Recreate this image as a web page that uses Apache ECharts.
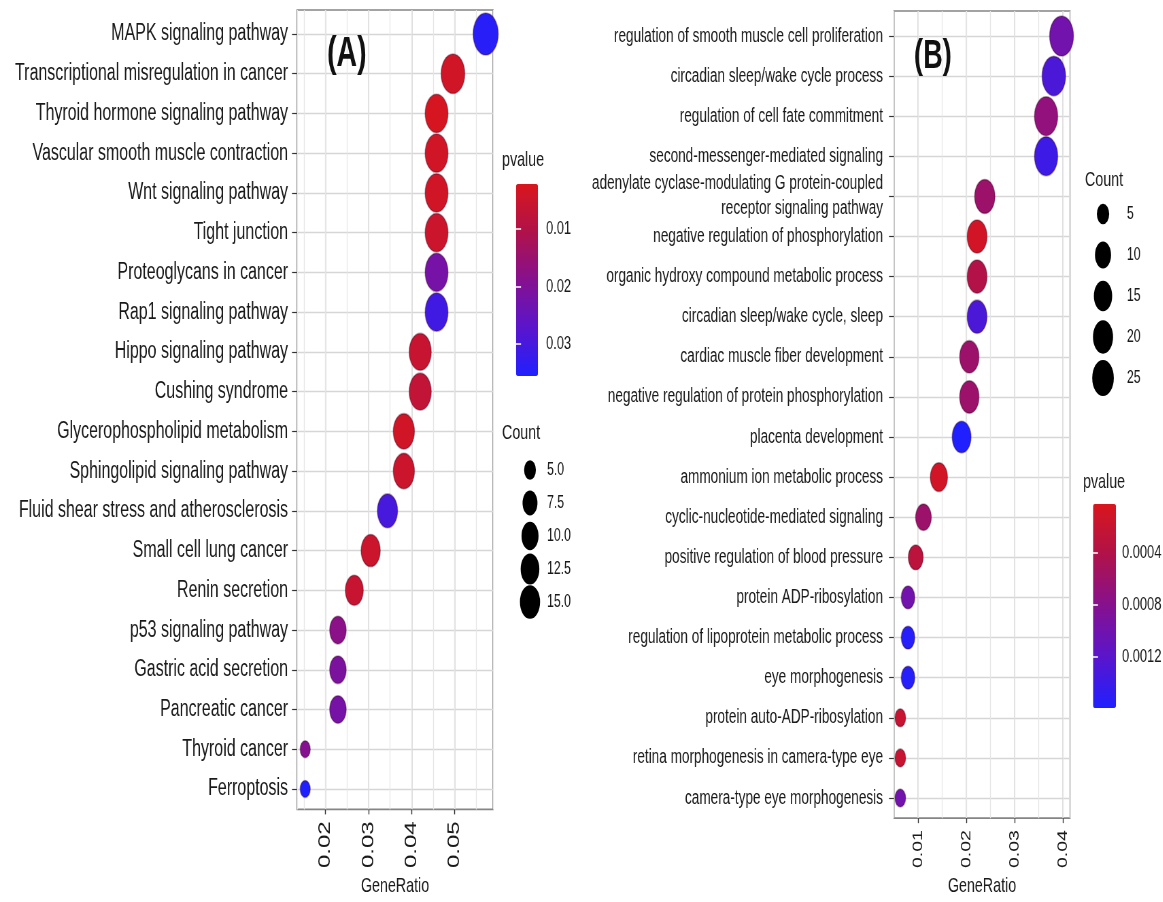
<!DOCTYPE html>
<html>
<head>
<meta charset="utf-8">
<title>KEGG / GO enrichment dot plots</title>
<script src="https://cdn.jsdelivr.net/npm/echarts@6/dist/echarts.min.js"></script>
<style>
  html, body { margin: 0; padding: 0; background: #fff; overflow: hidden; }
  #wrap { width: 1163px; height: 902px; overflow: hidden; }
  /* the reference picture is squeezed horizontally, so the chart is drawn wide and squeezed too */
  #chart { width: 1711px; height: 902px; transform: scaleX(0.68); transform-origin: 0 0; }
</style>
</head>
<body>
<div id="wrap"><div id="chart"></div></div>
<script>
// ---- panel A: KEGG pathways ----
const keggTerms = [
  'MAPK signaling pathway',
  'Transcriptional misregulation in cancer',
  'Thyroid hormone signaling pathway',
  'Vascular smooth muscle contraction',
  'Wnt signaling pathway',
  'Tight junction',
  'Proteoglycans in cancer',
  'Rap1 signaling pathway',
  'Hippo signaling pathway',
  'Cushing syndrome',
  'Glycerophospholipid metabolism',
  'Sphingolipid signaling pathway',
  'Fluid shear stress and atherosclerosis',
  'Small cell lung cancer',
  'Renin secretion',
  'p53 signaling pathway',
  'Gastric acid secretion',
  'Pancreatic cancer',
  'Thyroid cancer',
  'Ferroptosis'
]
const keggRatio = [0.0572, 0.0496, 0.0458, 0.0458, 0.0458, 0.0458, 0.0458, 0.0458, 0.0420, 0.0420,
  0.0382, 0.0382, 0.0344, 0.0305, 0.0267, 0.0229, 0.0229, 0.0229, 0.0153, 0.0153]
const keggCount = [15, 13, 12, 12, 12, 12, 12, 12, 11, 11, 10, 10, 9, 8, 7, 6, 6, 6, 4, 4]
const keggP = [0.0345, 0.004, 0.003, 0.004, 0.004, 0.005, 0.022, 0.031, 0.006, 0.007,
  0.004, 0.005, 0.030, 0.005, 0.006, 0.018, 0.021, 0.022, 0.019, 0.0356]
const keggTicks = [0.02, 0.03, 0.04, 0.05]
const keggPTicks = [0.01, 0.02, 0.03]
const keggCountKeys = [5, 7.5, 10, 12.5, 15]

// ---- panel B: GO biological process ----
const goTerms = [
  'regulation of smooth muscle cell proliferation',
  'circadian sleep/wake cycle process',
  'regulation of cell fate commitment',
  'second-messenger-mediated signaling',
  'adenylate cyclase-modulating G protein-coupled\nreceptor signaling pathway',
  'negative regulation of phosphorylation',
  'organic hydroxy compound metabolic process',
  'circadian sleep/wake cycle, sleep',
  'cardiac muscle fiber development',
  'negative regulation of protein phosphorylation',
  'placenta development',
  'ammonium ion metabolic process',
  'cyclic-nucleotide-mediated signaling',
  'positive regulation of blood pressure',
  'protein ADP-ribosylation',
  'regulation of lipoprotein metabolic process',
  'eye morphogenesis',
  'protein auto-ADP-ribosylation',
  'retina morphogenesis in camera-type eye',
  'camera-type eye morphogenesis'
]
const goRatio = [0.0397, 0.0381, 0.0365, 0.0365, 0.0238, 0.0222, 0.0222, 0.0222, 0.0206, 0.0206,
  0.0190, 0.0143, 0.0111, 0.0095, 0.0079, 0.0079, 0.0079, 0.0063, 0.0063, 0.0063]
const goCount = [25, 24, 23, 23, 15, 14, 14, 14, 13, 13, 12, 9, 7, 6, 5, 5, 5, 4, 4, 4]
const goP = [0.0010, 0.0013, 0.0007, 0.0014, 0.0006, 0.0001, 0.0004, 0.0013, 0.0006, 0.0006,
  0.0016, 0.0001, 0.0006, 0.0003, 0.0010, 0.00155, 0.00155, 0.0002, 0.0002, 0.0010]
const goTicks = [0.01, 0.02, 0.03, 0.04]
const goPTicks = [0.0004, 0.0008, 0.0012]
const goCountKeys = [5, 10, 15, 20, 25]

// ---- layout / style ----
const SX = 0.68                 // same as the css scaleX
const X = (v) => v / SX         // screen x -> chart x
const ASPECT = 0.6 / SX         // dots look ~0.6 as wide as tall
const FONT = "'Liberation Sans', Arial, sans-serif"
const INK = '#1a1a1a'
const PALETTE = ['#d9161d', '#b0124a', '#86118f', '#5a15cc', '#2020ff']

// ggplot area scale: size grows with sqrt of the rescaled count
const sizeA = (c) => 17 + 25 * Math.sqrt(Math.max(0, c - 4) / 11)
const sizeB = (c) => 18 + 22 * Math.sqrt(Math.max(0, c - 4) / 21)
const dot = (h) => [h * ASPECT, h]

const chart = echarts.init(document.getElementById('chart'), null, { renderer: 'canvas' })

const frameGrid = (left, top, width, height) => ({
  left: X(left), top, width: X(width), height,
  show: true, borderColor: '#858585', borderWidth: 1.7, backgroundColor: '#fff'
})
const plainGrid = (left, top, width, height) => ({ left: X(left), top, width: X(width), height })

// major x axis (labels, ticks, lines) + minor x axis (lines only) for a panel frame
const frameXAxes = (gridIndex, min, max, ticks, fontSize) => [
  {
    type: 'value', gridIndex, min, max, minInterval: 0.01, maxInterval: 0.01, position: 'bottom',
    name: 'GeneRatio', nameLocation: 'middle', nameGap: 56,
    nameTextStyle: { fontSize: 21, color: INK, fontFamily: FONT },
    axisLine: { show: false },
    axisTick: { show: true, length: 5, customValues: ticks, lineStyle: { color: '#333', width: 1.4 } },
    axisLabel: { rotate: 90, margin: 12, fontSize, color: INK, fontFamily: FONT, customValues: ticks },
    splitLine: { show: true, lineStyle: { color: '#d4d4d4', width: 1.5 } }
  },
  {
    type: 'value', gridIndex, min, max, minInterval: 0.005, maxInterval: 0.005, position: 'top',
    axisLine: { show: false }, axisTick: { show: false }, axisLabel: { show: false },
    splitLine: { show: true, lineStyle: { color: '#e6e6e6', width: 1.3 } }
  }
]

const termAxis = (gridIndex, terms, fontSize, margin) => ({
  type: 'category', gridIndex, data: terms, inverse: true, boundaryGap: false,
  axisLine: { show: false },
  axisTick: { show: true, interval: 0, length: X(5), lineStyle: { color: '#333', width: 1.2 } },
  axisLabel: { interval: 0, margin: X(margin), fontSize, lineHeight: 25, color: INK, fontFamily: FONT },
  splitLine: { show: true, interval: 0, lineStyle: { color: '#d6d6d6', width: 1.3 } }
})

// colour bar tick labels (right) and white tick marks (both edges)
const barAxes = (gridIndex, min, max, ticks) => [
  {
    type: 'value', gridIndex, min, max, inverse: true, position: 'right', z: 10,
    axisLine: { show: false }, splitLine: { show: false },
    axisTick: { show: true, inside: true, length: X(5), customValues: ticks, lineStyle: { color: '#fff', width: 1.5 } },
    axisLabel: { margin: X(8), fontSize: 19, color: INK, fontFamily: FONT, customValues: ticks }
  },
  {
    type: 'value', gridIndex, min, max, inverse: true, position: 'left', z: 10,
    axisLine: { show: false }, splitLine: { show: false }, axisLabel: { show: false },
    axisTick: { show: true, inside: true, length: X(5), customValues: ticks, lineStyle: { color: '#fff', width: 1.5 } }
  }
]

const keyAxis = (gridIndex, labels, margin) => ({
  type: 'category', gridIndex, data: labels, inverse: true, boundaryGap: false, position: 'right',
  axisLine: { show: false }, axisTick: { show: false }, splitLine: { show: false },
  axisLabel: { interval: 0, margin: X(margin), fontSize: 18, color: INK, fontFamily: FONT }
})

const hiddenX = (gridIndex, min, max) => ({ type: 'value', gridIndex, min, max, show: false })
const hiddenY = (gridIndex) => ({ type: 'value', gridIndex, show: false })

const keggKeyLabels = keggCountKeys.map((v) => v.toFixed(1))
const goKeyLabels = goCountKeys.map((v) => String(v))

const legendTitle = (text, left, top, fontSize = 21) => ({
  text, left: X(left), top, padding: 0,
  textStyle: { fontSize, fontWeight: 'normal', color: INK, fontFamily: FONT }
})

const option = {
  animation: false,
  backgroundColor: '#fff',
  textStyle: { fontFamily: FONT },
  title: [
    { text: '(A)', left: X(327), top: 33, padding: 0, textStyle: { fontSize: 42, fontWeight: 'bold', color: '#111', fontFamily: FONT } },
    { text: '(B)', left: X(914), top: 37, padding: 0, textStyle: { fontSize: 40, fontWeight: 'bold', color: '#111', fontFamily: FONT } },
    legendTitle('pvalue', 502, 150),
    legendTitle('Count', 502, 423),
    legendTitle('Count', 1085, 170),
    legendTitle('pvalue', 1083, 472)
  ],
  grid: [
    frameGrid(297, 10, 196, 802),   // 0 A frame
    plainGrid(297, 34, 196, 755),   // 1 A dots
    frameGrid(894, 11, 176, 812),   // 2 B frame
    plainGrid(894, 36, 176, 762),   // 3 B dots
    plainGrid(516, 184, 22, 192),   // 4 A colour bar
    plainGrid(1093, 504, 23, 204),  // 5 B colour bar
    plainGrid(520, 470, 20, 132),   // 6 A count keys
    plainGrid(1093, 214, 20, 164)   // 7 B count keys
  ],
  xAxis: [
    ...frameXAxes(0, 0.0134, 0.0589, keggTicks, 24),
    hiddenX(1, 0.0134, 0.0589),
    ...frameXAxes(2, 0.0050, 0.04145, goTicks, 19.5),
    hiddenX(3, 0.0050, 0.04145),
    hiddenX(4, 0, 1),
    hiddenX(5, 0, 1),
    hiddenX(6, -1, 1),
    hiddenX(7, -1, 1)
  ],
  yAxis: [
    hiddenY(0),
    termAxis(1, keggTerms, 23.5, 9),
    hiddenY(2),
    termAxis(3, goTerms, 20, 11),
    ...barAxes(4, 0.0022, 0.0356, keggPTicks),
    ...barAxes(5, 0.00002, 0.0016, goPTicks),
    keyAxis(6, keggKeyLabels, 7),
    keyAxis(7, goKeyLabels, 14)
  ],
  visualMap: [
    {
      type: 'continuous', seriesIndex: 0, dimension: 2, min: 0.0022, max: 0.0356,
      inverse: true, calculable: false, hoverLink: false, padding: 0,
      left: X(516), top: 184, itemWidth: X(22), itemHeight: 192,
      inRange: { color: PALETTE }
    },
    {
      type: 'continuous', seriesIndex: 1, dimension: 2, min: 0.00002, max: 0.0016,
      inverse: true, calculable: false, hoverLink: false, padding: 0,
      left: X(1093), top: 504, itemWidth: X(23), itemHeight: 204,
      inRange: { color: PALETTE }
    }
  ],
  series: [
    {
      name: 'KEGG', type: 'scatter', xAxisIndex: 2, yAxisIndex: 1, clip: false, silent: true,
      data: keggTerms.map((t, i) => [keggRatio[i], t, keggP[i], keggCount[i]]),
      symbolSize: (d) => dot(sizeA(d[3])),
      itemStyle: { opacity: 1, borderColor: 'rgba(50,0,30,0.35)', borderWidth: 1.5 }
    },
    {
      name: 'GO', type: 'scatter', xAxisIndex: 5, yAxisIndex: 3, clip: false, silent: true,
      data: goTerms.map((t, i) => [goRatio[i], t, goP[i], goCount[i]]),
      symbolSize: (d) => dot(sizeB(d[3])),
      itemStyle: { opacity: 1, borderColor: 'rgba(50,0,30,0.35)', borderWidth: 1.5 }
    },
    {
      // legend keys are drawn a little smaller than the dots, as in the picture
      name: 'Count A', type: 'scatter', xAxisIndex: 8, yAxisIndex: 8, clip: false, silent: true,
      data: keggCountKeys.map((c, i) => [0, keggKeyLabels[i], c]),
      symbolSize: (d) => dot(sizeA(d[2]) * 0.8),
      itemStyle: { color: '#000', opacity: 1 }
    },
    {
      name: 'Count B', type: 'scatter', xAxisIndex: 9, yAxisIndex: 9, clip: false, silent: true,
      data: goCountKeys.map((c, i) => [0, goKeyLabels[i], c]),
      symbolSize: (d) => dot(sizeB(d[2]) * 0.9),
      itemStyle: { color: '#000', opacity: 1 }
    }
  ]
}

chart.setOption(option)
</script>
</body>
</html>
